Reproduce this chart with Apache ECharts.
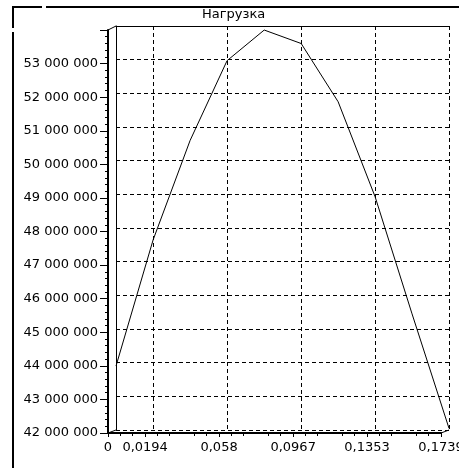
<!DOCTYPE html>
<html>
<head>
<meta charset="utf-8">
<script src="https://cdn.jsdelivr.net/npm/echarts@6/dist/echarts.min.js"></script>
<style>
  html, body { margin: 0; padding: 0; background: #fff; }
  #chart { width: 459px; height: 468px; }
</style>
</head>
<body>
<div id="chart"></div>
<script>
  // values
  const xValues = [0, 0.0194, 0.0387, 0.058, 0.0774, 0.0967, 0.116, 0.1353, 0.1546, 0.1739];
  const loadValues = [43900000, 47650000, 50600000, 52970000, 53880000, 53480000, 51750000, 48930000, 45450000, 42050000];
  const xTicks = [0, 0.0194, 0.058, 0.0967, 0.1353, 0.1739];
  const xTickLabels = ['0', '0,0194', '0,058', '0,0967', '0,1353', '0,1739'];
  const xMax = 0.1739;
  const yMin = 42000000;
  const yMax = 54000000;
  const yStep = 1000000;

  const font = 'DejaVu Sans';
  const dashed = { color: '#000', width: 1, type: [4, 3] };

  const chart = echarts.init(document.getElementById('chart'));

  const fmtY = v => String(v).replace(/\B(?=(\d{3})+(?!\d))/g, ' ');

  const option = {
    animation: false,
    backgroundColor: '#fff',
    title: {
      text: 'Нагрузка',
      left: 202,
      top: 8,
      padding: 0,
      textStyle: { fontFamily: font, fontSize: 13, fontWeight: 'normal', color: '#000' }
    },
    grid: [
      // back wall
      { left: 116, top: 26, width: 333, height: 404, outerBoundsMode: 'none', containLabel: false },
      // front axes
      { left: 108, top: 30, width: 333, height: 403, outerBoundsMode: 'none', containLabel: false }
    ],
    xAxis: [
      {
        type: 'value', gridIndex: 0, position: 'top',
        min: 0, max: xMax,
        axisLine: { show: true, lineStyle: { color: '#000', width: 1 } },
        axisTick: { show: false, customValues: xTicks },
        axisLabel: { show: false, customValues: xTicks },
        splitLine: { show: true, lineStyle: dashed }
      },
      {
        type: 'value', gridIndex: 1, position: 'bottom',
        min: 0, max: xMax, interval: xMax / 9,
        axisLine: { show: true, onZero: false, lineStyle: { color: '#000', width: 2 } },
        axisTick: { show: true, customValues: xTicks, length: 4, lineStyle: { color: '#000' } },
        minorTick: { show: true, splitNumber: 3, length: 3, lineStyle: { color: '#000' } },
        axisLabel: {
          customValues: xTicks,
          margin: 8,
          color: '#000', fontFamily: font, fontSize: 13,
          formatter: v => {
            const i = xTicks.indexOf(v);
            return i >= 0 ? xTickLabels[i] : '';
          }
        },
        splitLine: { show: false }
      }
    ],
    yAxis: [
      {
        type: 'value', gridIndex: 0, position: 'right',
        min: yMin, max: yMax, interval: yStep,
        axisLine: { show: true, lineStyle: { color: '#000', width: 1 } },
        axisTick: { show: false },
        axisLabel: { show: false },
        splitLine: { show: true, lineStyle: dashed }
      },
      {
        type: 'value', gridIndex: 1, position: 'left',
        min: yMin, max: yMax, interval: yStep,
        axisLine: { show: true, onZero: false, lineStyle: { color: '#000', width: 2 } },
        axisTick: { show: true, length: 8, lineStyle: { color: '#000' } },
        minorTick: { show: true, splitNumber: 5, length: 3, lineStyle: { color: '#000' } },
        axisLabel: {
          margin: 10, showMaxLabel: false,
          color: '#000', fontFamily: font, fontSize: 13,
          formatter: fmtY
        },
        splitLine: { show: false }
      }
    ],
    graphic: [
      // outer frame
      { type: 'line', shape: { x1: 13, y1: 7, x2: 42, y2: 7 }, style: { stroke: '#000', lineWidth: 2 } },
      { type: 'line', shape: { x1: 46, y1: 7, x2: 459, y2: 7 }, style: { stroke: '#000', lineWidth: 2 } },
      { type: 'line', shape: { x1: 13, y1: 6, x2: 13, y2: 28 }, style: { stroke: '#000', lineWidth: 2 } },
      { type: 'line', shape: { x1: 13, y1: 32, x2: 13, y2: 468 }, style: { stroke: '#000', lineWidth: 2 } },
      // depth edges
      { type: 'line', shape: { x1: 108, y1: 30, x2: 116, y2: 26 }, style: { stroke: '#000', lineWidth: 1 } },
      { type: 'line', shape: { x1: 108, y1: 433, x2: 116, y2: 430 }, style: { stroke: '#000', lineWidth: 1 } },
      { type: 'line', shape: { x1: 441, y1: 433, x2: 449, y2: 430 }, style: { stroke: '#000', lineWidth: 1 } }
    ],
    series: [
      {
        type: 'line',
        xAxisIndex: 0, yAxisIndex: 0,
        data: xValues.map((x, i) => [x, loadValues[i]]),
        symbol: 'none',
        lineStyle: { color: '#000', width: 1 }
      }
    ]
  };

  chart.setOption(option);
</script>
</body>
</html>
